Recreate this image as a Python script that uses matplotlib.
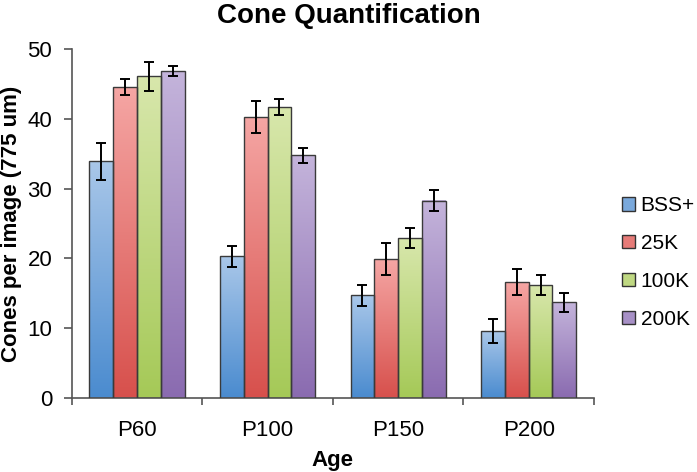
import matplotlib
matplotlib.use("Agg")
import matplotlib.pyplot as plt
import numpy as np
from matplotlib.colors import LinearSegmentedColormap
from matplotlib.patches import Patch

plt.rcParams['font.family'] = ['Liberation Sans', 'DejaVu Sans']

categories = ["P60", "P100", "P150", "P200"]
series = ["BSS+", "25K", "100K", "200K"]
values = {
    "BSS+": [33.9, 20.3, 14.7, 9.6],
    "25K": [44.6, 40.3, 19.9, 16.6],
    "100K": [46.1, 41.7, 22.9, 16.2],
    "200K": [46.9, 34.8, 28.3, 13.7],
}
errors = {
    "BSS+": [2.65, 1.5, 1.5, 1.7],
    "25K": [1.1, 2.3, 2.25, 1.8],
    "100K": [2.1, 1.2, 1.4, 1.45],
    "200K": [0.75, 1.1, 1.5, 1.35],
}
top_colors = ["#a9c7e9", "#f5a6a4", "#d8e7ac", "#c4b4db"]
bottom_colors = ["#4a8bcf", "#d7504c", "#a5c957", "#8a6bb0"]
mid_colors = ["#7aa9dc", "#e67b78", "#bfd882", "#a790c6"]

W, H = 697, 472
fig = plt.figure(figsize=(W / 100, H / 100), dpi=100)
ax_l, ax_r, ax_b, ax_t = 71.7, 594.0, 397.7, 49.3
ax = fig.add_axes([ax_l / W, 1 - ax_b / H, (ax_r - ax_l) / W, (ax_b - ax_t) / H])

x = np.arange(len(categories))
bw = 0.182
for i, s in enumerate(series):
    cmap = LinearSegmentedColormap.from_list(s, [bottom_colors[i], top_colors[i]])
    grad = np.linspace(0, 1, 256).reshape(-1, 1)
    offs = x + (i - 1.5) * bw
    bars = ax.bar(offs, values[s], width=bw, facecolor="none",
                  edgecolor="#3a3a3a", linewidth=1.0, zorder=3)
    for b in bars:
        bx, by = b.get_x(), b.get_y()
        bh, bwid = b.get_height(), b.get_width()
        ax.imshow(grad, cmap=cmap, origin="lower", aspect="auto",
                  extent=[bx, bx + bwid, by, by + bh], zorder=2,
                  interpolation="bicubic")
    ax.errorbar(offs, values[s], yerr=errors[s], fmt="none", ecolor="black",
                elinewidth=1.4, capsize=3.3, capthick=1.4, zorder=4)

ax.set_xlim(-0.5, 3.5)
ax.set_ylim(0, 50)
ax.set_yticks([0, 10, 20, 30, 40, 50])
ax.set_xticks(x)
ax.set_xticklabels(categories)
ax.set_xticks(np.arange(-0.5, 4.0, 1.0), minor=True)
ax.tick_params(axis="x", which="major", length=0, labelsize=16, pad=16)
ax.tick_params(axis="x", which="minor", length=5, width=1.2, color="#555555", direction="out")
ax.tick_params(axis="y", length=6, width=1.2, color="#555555", labelsize=16, pad=8)
for sp in ["top", "right"]:
    ax.spines[sp].set_visible(False)
for sp in ["left", "bottom"]:
    ax.spines[sp].set_color("#555555")
    ax.spines[sp].set_linewidth(1.2)

ax.set_ylabel("Cones per image (775 um)", fontsize=16, fontweight="bold")
ax.yaxis.set_label_coords((22 - ax_l) / (ax_r - ax_l), 0.5)
ax.set_xlabel("Age", fontsize=16, fontweight="bold")
ax.xaxis.set_label_coords(0.5, (ax_b - 450) / (ax_b - ax_t))
fig.text(0.5, 1 - 23 / H, "Cone Quantification", fontsize=20, fontweight="bold",
         ha="center", va="baseline")

handles = [Patch(facecolor=mid_colors[i], edgecolor="#333333", linewidth=1.0) for i in range(4)]
fig.legend(handles, series, loc="center left", bbox_to_anchor=(622 / W, 1 - 262.5 / H),
           frameon=False, fontsize=15, handlelength=0.6, handleheight=0.6,
           handletextpad=0.3, labelspacing=0.9, borderaxespad=0, borderpad=0)

fig.savefig("out.png", dpi=100)
